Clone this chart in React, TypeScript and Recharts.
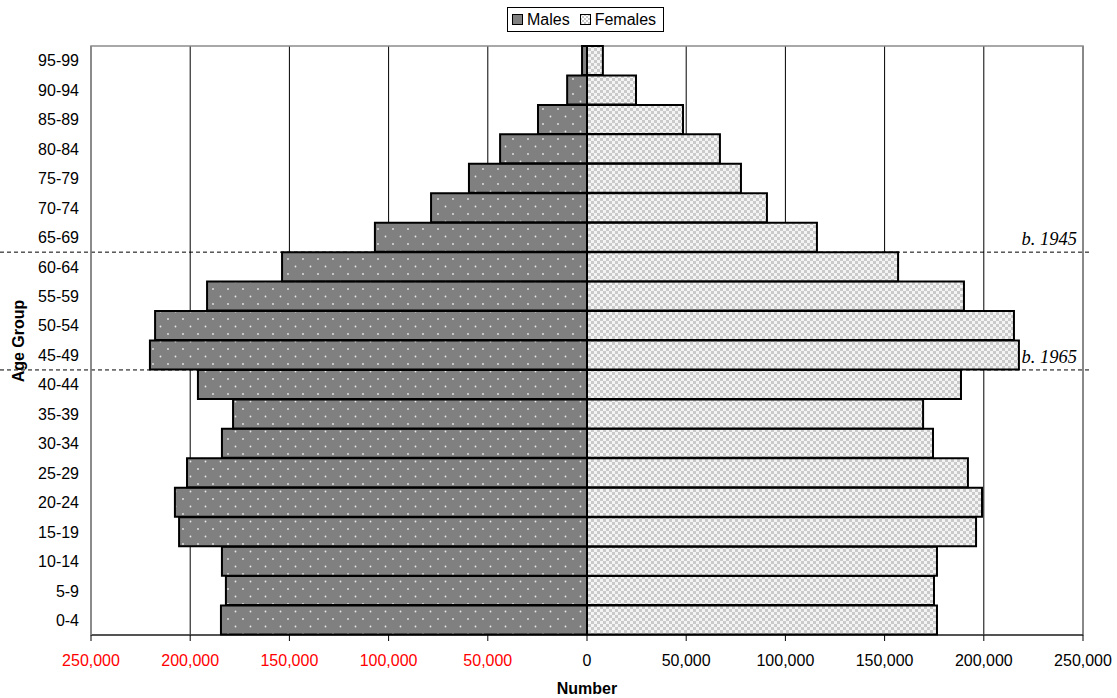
import React from 'react';
import { BarChart, Bar, XAxis, YAxis, CartesianGrid, ReferenceLine, ReferenceArea } from 'recharts';

const ageGroups = ['0-4', '5-9', '10-14', '15-19', '20-24', '25-29', '30-34', '35-39', '40-44', '45-49', '50-54', '55-59', '60-64', '65-69', '70-74', '75-79', '80-84', '85-89', '90-94', '95-99'];
const males = [184500, 182000, 184000, 205600, 207700, 201600, 184000, 178400, 196100, 220300, 217700, 191500, 153700, 106900, 78600, 59500, 43800, 24700, 10000, 2500];
const females = [176400, 174900, 176400, 196100, 199100, 192000, 174400, 169400, 188500, 217700, 215200, 190000, 156800, 115900, 90700, 77600, 67000, 48400, 24700, 8000];
const xTicks = [-250000, -200000, -150000, -100000, -50000, 0, 50000, 100000, 150000, 200000, 250000];
const cohortGroups = ['60-64', '40-44'];
const cohortLabels = ['b. 1945', 'b. 1965'];

const data = ageGroups.map((g, i) => ({ group: g, males: -males[i], females: females[i] }));

const W = 1117;
const H = 698;
const FONT = 'Arial, "Liberation Sans", sans-serif';

const fmt = (v: number) => Math.abs(v).toLocaleString('en-US');

const XTick = (props: any) => {
  const { x, y, payload } = props;
  const v = payload.value as number;
  return (
    <text x={x} y={y} dy="0.71em" textAnchor="middle" fontFamily={FONT} fontSize={16} fill={v < 0 ? '#ff0000' : '#000'}>
      {fmt(v)}
    </text>
  );
};

const cohortShape = (label: string) => (p: any) => {
  const y = p.y1;
  return (
    <g>
      <line x1={0} x2={p.x2 + 7} y1={y} y2={y} stroke="#000" strokeWidth={1} strokeDasharray="4 3" />
      <text x={p.x2 - 6} y={y - 7} textAnchor="end" fontFamily='"Times New Roman", "Liberation Serif", serif' fontStyle="italic" fontSize={18.5} fill="#000">
        {label}
      </text>
    </g>
  );
};

const LegendBox = () => (
  <div
    style={{
      position: 'absolute',
      left: 507,
      top: 7,
      width: 157,
      height: 25,
      border: '1px solid #000',
      background: '#fff',
      fontFamily: FONT,
      fontSize: 16,
      display: 'flex',
      alignItems: 'center',
      boxSizing: 'border-box',
      paddingLeft: 4,
      whiteSpace: 'nowrap',
    }}
  >
    <svg width={11} height={11} style={{ marginRight: 4 }}>
      <rect x={0.5} y={0.5} width={10} height={10} fill="#808080" stroke="#000" />
    </svg>
    <span style={{ marginRight: 10 }}>Males</span>
    <svg width={11} height={11} style={{ marginRight: 4 }}>
      <defs>
        <pattern id="legChk" patternUnits="userSpaceOnUse" width={4} height={4}>
          <rect width={4} height={4} fill="#fff" />
          <rect width={2} height={2} fill="#c8c8c8" />
          <rect x={2} y={2} width={2} height={2} fill="#c8c8c8" />
        </pattern>
      </defs>
      <rect x={0.5} y={0.5} width={10} height={10} fill="url(#legChk)" stroke="#000" />
    </svg>
    <span>Females</span>
  </div>
);

export default function App() {
  return (
    <div style={{ position: 'absolute', left: 0, top: 0, width: W, height: H, background: '#fff' }}>
      <BarChart
        width={W}
        height={H}
        data={data}
        layout="vertical"
        stackOffset="sign"
        barCategoryGap={0}
        margin={{ top: 46, right: 34, bottom: 33, left: 0 }}
      >
        <defs>
          <pattern id="dotPat" patternUnits="userSpaceOnUse" width={15} height={15}>
            <rect width={15} height={15} fill="#808080" />
            <circle cx={3} cy={4} r={0.9} fill="#e8e8e8" />
            <circle cx={10.5} cy={11.5} r={0.9} fill="#e8e8e8" />
          </pattern>
          <pattern id="chkPat" patternUnits="userSpaceOnUse" width={6} height={6}>
            <rect width={6} height={6} fill="#f4f4f4" />
            <rect width={3} height={3} fill="#cacaca" />
            <rect x={3} y={3} width={3} height={3} fill="#cacaca" />
          </pattern>
        </defs>
        <CartesianGrid horizontal={false} stroke="#000" strokeWidth={1} />
        <ReferenceArea x1={-250000} x2={250000} fill="none" stroke="#8c8c8c" strokeWidth={1.5} ifOverflow="visible" />
        <XAxis
          type="number"
          domain={[-250000, 250000]}
          ticks={xTicks}
          interval={0}
          allowDataOverflow
          tick={<XTick />}
          tickSize={6}
          tickMargin={14}
          axisLine={{ stroke: '#000', strokeWidth: 1 }}
          tickLine={{ stroke: '#000' }}
        />
        <YAxis
          type="category"
          dataKey="group"
          reversed
          width={91}
          interval={0}
          tickLine={false}
          tickSize={6}
          tickMargin={6}
          axisLine={{ stroke: '#8c8c8c', strokeWidth: 1.5 }}
          tick={{ fill: '#000', fontFamily: FONT, fontSize: 16 }}
        />
        <Bar dataKey="males" stackId="a" fill="url(#dotPat)" stroke="#000" strokeWidth={2} isAnimationActive={false} />
        <Bar dataKey="females" stackId="a" fill="url(#chkPat)" stroke="#000" strokeWidth={2} isAnimationActive={false} />
        {cohortGroups.map((g, i) => (
          <ReferenceLine key={g} y={g} position="start" ifOverflow="visible" shape={cohortShape(cohortLabels[i])} />
        ))}
        <text x={587} y={694} textAnchor="middle" fontFamily={FONT} fontSize={16} fontWeight="bold" fill="#000">
          Number
        </text>
        <text x={24} y={341} textAnchor="middle" transform="rotate(-90, 24, 341)" fontFamily={FONT} fontSize={16} fontWeight="bold" fill="#000">
          Age Group
        </text>
      </BarChart>
      <LegendBox />
    </div>
  );
}
